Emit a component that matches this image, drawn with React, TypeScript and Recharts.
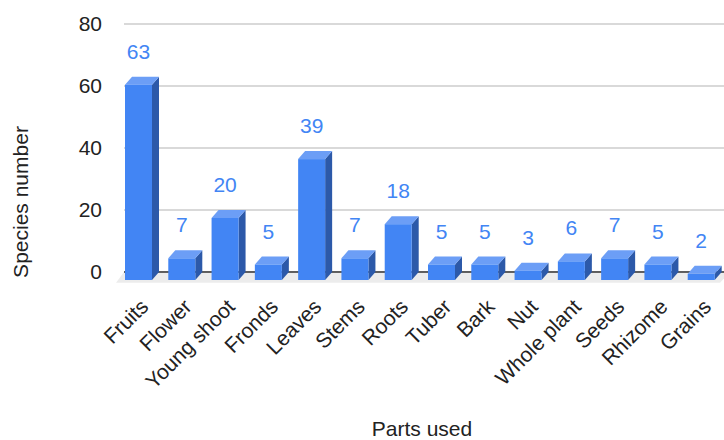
import React from "react"
import { Bar, BarChart, CartesianGrid, LabelList, ReferenceArea, XAxis, YAxis } from "recharts"

const parts = [
  "Fruits",
  "Flower",
  "Young shoot",
  "Fronds",
  "Leaves",
  "Stems",
  "Roots",
  "Tuber",
  "Bark",
  "Nut",
  "Whole plant",
  "Seeds",
  "Rhizome",
  "Grains",
]
const species = [63, 7, 20, 5, 39, 7, 18, 5, 5, 3, 6, 7, 5, 2]
const yTicks = [0, 20, 40, 60, 80]

const data = parts.map((part, i) => ({ part, species: species[i] }))

const FONT = "'Liberation Sans', Arial, Helvetica, sans-serif"
const DEPTH_X = 7
const DEPTH_Y = 8

// 3D-looking bar: front face shifted down/left of the value plane
const Bar3D = (props: any) => {
  const { x, y, width, height } = props
  if (!width || height == null) return null
  const fx = x - DEPTH_X
  const fy = y + DEPTH_Y
  const top = `${fx},${fy} ${x},${y} ${x + width},${y} ${fx + width},${fy}`
  const side = `${fx + width},${fy} ${x + width},${y} ${x + width},${y + height} ${fx + width},${fy + height}`
  return (
    <g>
      <polygon points={side} fill="#2c59a9" />
      <polygon points={top} fill="#6c9ef6" />
      <rect x={fx} y={fy} width={width} height={height} fill="#4285f4" />
    </g>
  )
}

// floor under the bars plus the dark base line
const Floor = (props: any) => {
  const { x, y, width, height } = props
  const pts = `${x},${y} ${x + width},${y} ${x + width - 10},${y + height} ${x - 8},${y + height}`
  return (
    <g>
      <polygon points={pts} fill="#ececec" />
      <line x1={x} y1={y} x2={x + width} y2={y} stroke="#333" strokeWidth={1.5} />
    </g>
  )
}

const CategoryTick = (props: any) => {
  const { x, y, payload } = props
  const tx = x + 4
  const ty = y + 36
  return (
    <text
      x={tx}
      y={ty}
      transform={`rotate(-45, ${tx}, ${ty})`}
      textAnchor="end"
      fontSize={21}
      fontFamily={FONT}
      fill="#222"
    >
      {payload.value}
    </text>
  )
}

const ValueLabel = (props: any) => {
  const { x, y, width, value } = props
  return (
    <text
      x={Number(x) + Number(width) / 2 - DEPTH_X}
      y={Number(y) - 18}
      textAnchor="middle"
      fontSize={21}
      fontFamily={FONT}
      fill="#4285f4"
    >
      {value}
    </text>
  )
}

export default function App() {
  return (
    <div style={{ position: "fixed", left: 0, top: 0, width: 724, height: 440, overflow: "hidden", background: "#fff" }}>
      <BarChart
        width={732}
        height={440}
        data={data}
        margin={{ top: 24, right: 2, bottom: 0, left: 0 }}
        style={{ fontFamily: FONT }}
      >
        <CartesianGrid vertical={false} stroke="#cccccc" strokeWidth={1.3} />
        <ReferenceArea y1={-3.5} y2={0} ifOverflow="visible" shape={<Floor />} />
        <XAxis
          dataKey="part"
          height={168}
          interval={0}
          axisLine={false}
          tickLine={false}
          tickSize={0}
          tickMargin={0}
          tick={<CategoryTick />}
          label={{
            content: (p: any) => {
              const vb = p.viewBox
              return (
                <text x={vb.x + vb.width / 2 - 5} y={436} textAnchor="middle" fontSize={21} fontFamily={FONT} fill="#222">
                  Parts used
                </text>
              )
            },
          }}
        />
        <YAxis
          type="number"
          domain={[0, 80]}
          ticks={yTicks}
          width={124}
          axisLine={false}
          tickLine={false}
          tickSize={0}
          tickMargin={22}
          tick={{ fontSize: 21, fill: "#222", fontFamily: FONT }}
          label={{
            content: () => (
              <text
                x={28}
                y={202}
                transform="rotate(-90, 28, 202)"
                textAnchor="middle"
                fontSize={21}
                fontFamily={FONT}
                fill="#222"
              >
                Species number
              </text>
            ),
          }}
        />
        <Bar dataKey="species" barSize={27} shape={<Bar3D />} isAnimationActive={false}>
          <LabelList dataKey="species" content={<ValueLabel />} />
        </Bar>
      </BarChart>
    </div>
  )
}
